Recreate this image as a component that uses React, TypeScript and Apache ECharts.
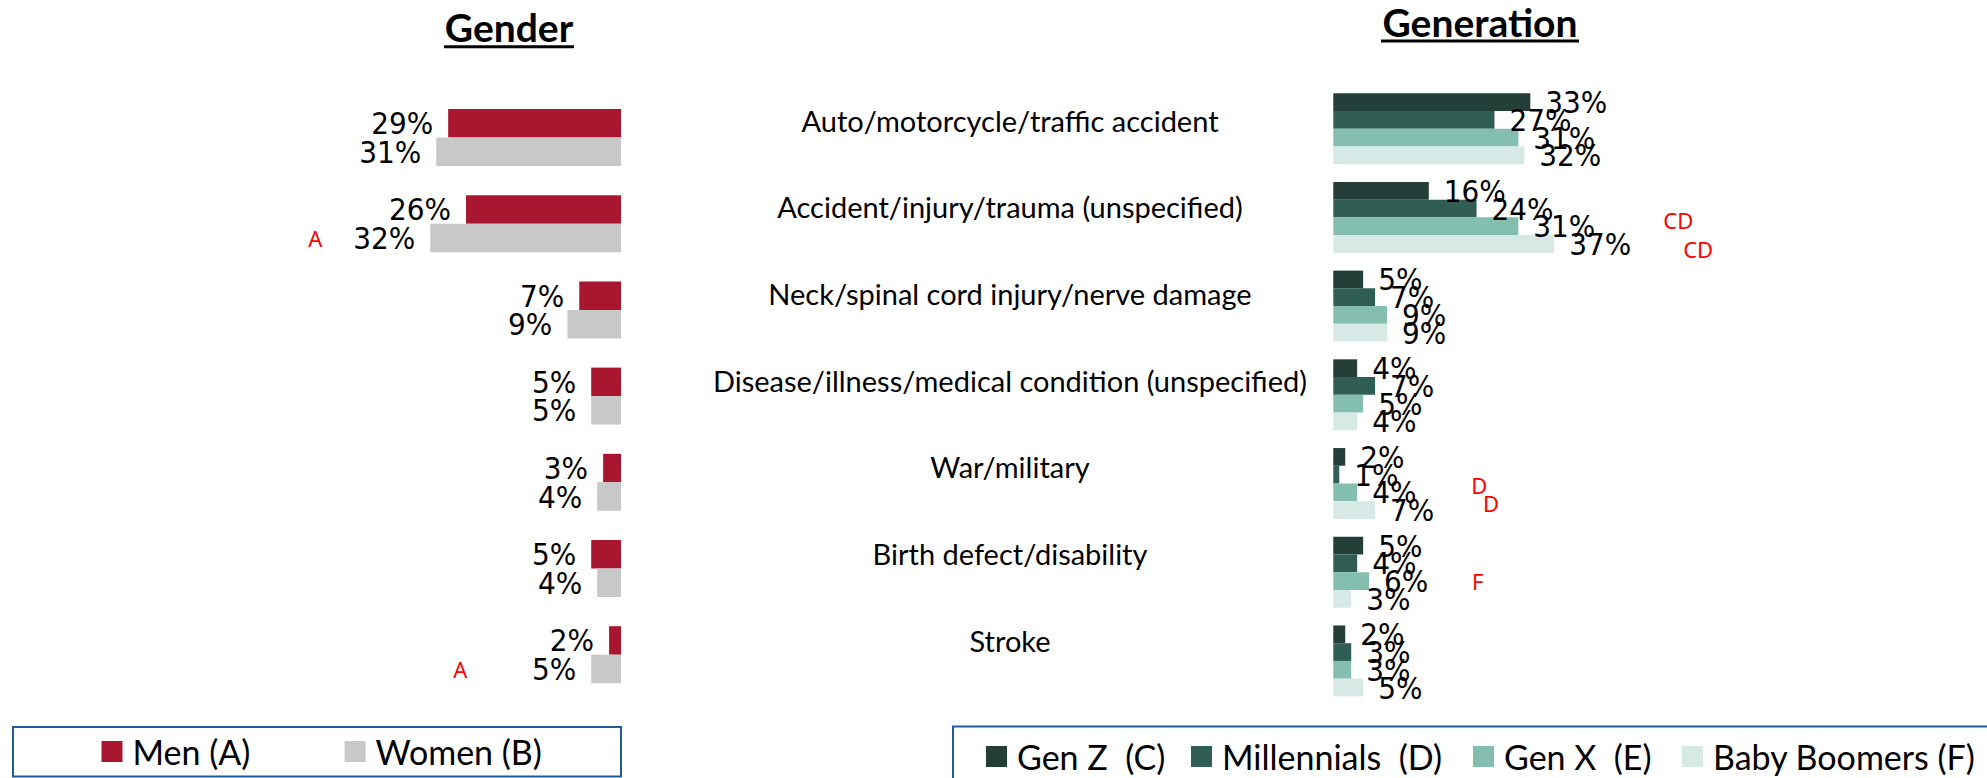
import React, { useEffect, useRef } from 'react';
import * as echarts from 'echarts';

const categories = [
  'Auto/motorcycle/traffic accident',
  'Accident/injury/trauma (unspecified)',
  'Neck/spinal cord injury/nerve damage',
  'Disease/illness/medical condition (unspecified)',
  'War/military',
  'Birth defect/disability',
  'Stroke',
];

const men = [29, 26, 7, 5, 3, 5, 2];
const women = [31, 32, 9, 5, 4, 4, 5];
const genZ = [33, 16, 5, 4, 2, 5, 2];
const millennials = [27, 24, 7, 7, 1, 4, 3];
const genX = [31, 31, 9, 5, 4, 6, 3];
const boomers = [32, 37, 9, 4, 7, 3, 5];

const menSig = ['', '', '', '', '', '', ''];
const womenSig = ['', 'A', '', '', '', '', 'A'];
const genZSig = ['', '', '', '', '', '', ''];
const millennialsSig = ['', '', '', '', '', '', ''];
const genXSig = ['', 'CD', '', '', 'D', 'F', ''];
const boomersSig = ['', 'CD', '', '', 'D', '', ''];

const genderNames = ['Men (A)', 'Women (B)'];
const generationNames = ['Gen Z  (C)', 'Millennials  (D)', 'Gen X  (E)', 'Baby Boomers (F)'];

// styling (not data)
const COLORS_GENDER = ['#A8172F', '#C8C8C8'];
const COLORS_GEN = ['#243F38', '#305E54', '#83BEAF', '#D6E9E4'];
const PCT_FONT = "'DejaVu Sans Condensed', 'DejaVu Sans', sans-serif";
const CAL_FONT = "Lato, 'Noto Sans', sans-serif";
const PCT_SIZE = 31;
const LBL_W = 66;
const DIST = 15;
// horizontal distance (px) from bar end to the near edge of the significance letter
const sigOffsetWomen = [0, 108, 0, 0, 0, 0, 124];
const sigOffsetGenX = [0, 145, 0, 0, 114, 103, 0];
const sigOffsetBoomers = [0, 129, 0, 0, 108, 0, 0];
const noOffset = [0, 0, 0, 0, 0, 0, 0];
// vertical shift (px, negative = up) of the significance letter
const sigShiftGenX = [0, -6, 0, 0, -7, 0, 0];
const sigShiftBoomers = [0, 5, 0, 0, -7, 0, 0];
const noShift = [0, 0, 0, 0, 0, 0, 0];

const vStyle = (side: 'left' | 'right') => ({
  fontFamily: PCT_FONT,
  fontSize: PCT_SIZE,
  color: '#000',
  width: LBL_W,
  align: side === 'right' ? 'left' : 'right',
});

function barData(
  values: number[],
  sigs: string[],
  offsets: number[],
  shifts: number[],
  side: 'left' | 'right'
) {
  return values.map((v, i) => {
    const sig = sigs[i];
    if (!sig) return v;
    const pad = Math.max(0, offsets[i] - DIST - LBL_W);
    const dy = shifts[i];
    const padTop = dy > 0 ? 2 * dy : 0;
    const padBottom = dy < 0 ? -2 * dy : 0;
    return {
      value: v,
      label: {
        formatter: side === 'right' ? `{v|${v}%}{s|${sig}}` : `{s|${sig}}{v|${v}%}`,
        rich: {
          v: vStyle(side),
          s: {
            fontFamily: "'Noto Sans', sans-serif",
            fontSize: 22,
            color: '#FF0000',
            padding:
              side === 'right' ? [padTop, 0, padBottom, pad] : [padTop, pad, padBottom, 0],
          },
        },
      },
    };
  });
}

function barSeries(
  name: string,
  values: number[],
  sigs: string[],
  offsets: number[],
  shifts: number[],
  color: string,
  axisIndex: number,
  side: 'left' | 'right',
  gap: string
) {
  return {
    type: 'bar',
    name,
    xAxisIndex: axisIndex,
    yAxisIndex: axisIndex,
    data: barData(values, sigs, offsets, shifts, side),
    barGap: '0%',
    barCategoryGap: gap,
    itemStyle: { color },
    label: {
      show: true,
      position: side,
      distance: DIST,
      formatter: (p: any) => `{v|${p.value}%}`,
      rich: { v: vStyle(side) },
    },
  };
}

export default function App() {
  const ref = useRef<HTMLDivElement>(null);

  useEffect(() => {
    document.body.style.margin = '0';
    const chart = echarts.init(ref.current!, null, { renderer: 'svg' });

    const legendBase = {
      orient: 'horizontal',
      padding: 0,
      itemWidth: 21,
      itemHeight: 21,
      icon: 'rect',
      selectedMode: false,
      textStyle: {
        fontFamily: CAL_FONT,
        fontSize: 34,
        color: '#000',
        lineHeight: 36,
        padding: [0, 0, 0, 5],
      },
    };
    const genderLegendX = [101.5, 344.6];
    const genLegendX = [986, 1191, 1473, 1682];

    const option: any = {
      animation: false,
      backgroundColor: '#fff',
      grid: [
        { left: 382.6, top: 94.4, width: 238.4, height: 603.4 },
        { left: 1333.3, top: 84.3, width: 238.8, height: 621 },
        { left: 1010, top: 76.65, width: 10, height: 606.9 },
      ],
      xAxis: [
        { gridIndex: 0, type: 'value', min: 0, max: 40, inverse: true, show: false },
        { gridIndex: 1, type: 'value', min: 0, max: 40, show: false },
        { gridIndex: 2, type: 'value', min: 0, max: 1, show: false },
      ],
      yAxis: [
        { gridIndex: 0, type: 'category', data: categories, inverse: true, show: false },
        { gridIndex: 1, type: 'category', data: categories, inverse: true, show: false },
        {
          gridIndex: 2,
          type: 'category',
          data: categories,
          inverse: true,
          axisLine: { show: false },
          axisTick: { show: false },
          splitLine: { show: false },
          axisLabel: {
            interval: 0,
            align: 'center',
            margin: 0,
            fontFamily: CAL_FONT,
            fontSize: 29,
            color: '#000',
          },
        },
      ],
      legend: [
        ...genderNames.map((n, i) => ({
          ...legendBase,
          data: [n],
          left: genderLegendX[i],
          top: 733.5,
        })),
        ...generationNames.map((n, i) => ({
          ...legendBase,
          data: [n],
          left: genLegendX[i],
          top: 738.5,
        })),
      ],
      series: [
        barSeries(genderNames[0], men, menSig, noOffset, noShift, COLORS_GENDER[0], 0, 'left', '33.9%'),
        barSeries(genderNames[1], women, womenSig, sigOffsetWomen, noShift, COLORS_GENDER[1], 0, 'left', '33.9%'),
        barSeries(generationNames[0], genZ, genZSig, noOffset, noShift, COLORS_GEN[0], 1, 'right', '20%'),
        barSeries(generationNames[1], millennials, millennialsSig, noOffset, noShift, COLORS_GEN[1], 1, 'right', '20%'),
        barSeries(generationNames[2], genX, genXSig, sigOffsetGenX, sigShiftGenX, COLORS_GEN[2], 1, 'right', '20%'),
        barSeries(generationNames[3], boomers, boomersSig, sigOffsetBoomers, sigShiftBoomers, COLORS_GEN[3], 1, 'right', '20%'),
      ],
      graphic: [
        {
          type: 'text',
          x: 509,
          y: 27,
          style: {
            text: 'Gender',
            fontFamily: CAL_FONT,
            fontWeight: 'bold',
            fontSize: 39,
            fill: '#000',
            align: 'center',
            verticalAlign: 'middle',
          },
        },
        {
          type: 'line',
          shape: { x1: 444, y1: 46.7, x2: 574, y2: 46.7 },
          style: { stroke: '#000', lineWidth: 3 },
        },
        {
          type: 'text',
          x: 1480,
          y: 21.5,
          style: {
            text: 'Generation',
            fontFamily: CAL_FONT,
            fontWeight: 'bold',
            fontSize: 39,
            fill: '#000',
            align: 'center',
            verticalAlign: 'middle',
          },
        },
        {
          type: 'line',
          shape: { x1: 1381, y1: 41, x2: 1579, y2: 41 },
          style: { stroke: '#000', lineWidth: 3 },
        },
        {
          type: 'rect',
          shape: { x: 13, y: 727, width: 608, height: 49.5 },
          style: { fill: 'none', stroke: '#1F5C99', lineWidth: 2 },
          z: -1,
        },
        {
          type: 'rect',
          shape: { x: 953, y: 726.5, width: 1100, height: 100 },
          style: { fill: 'none', stroke: '#1F5C99', lineWidth: 2 },
          z: -1,
        },
      ],
    };

    chart.setOption(option);
    return () => chart.dispose();
  }, []);

  return <div ref={ref} style={{ width: 1987, height: 778 }} />;
}
